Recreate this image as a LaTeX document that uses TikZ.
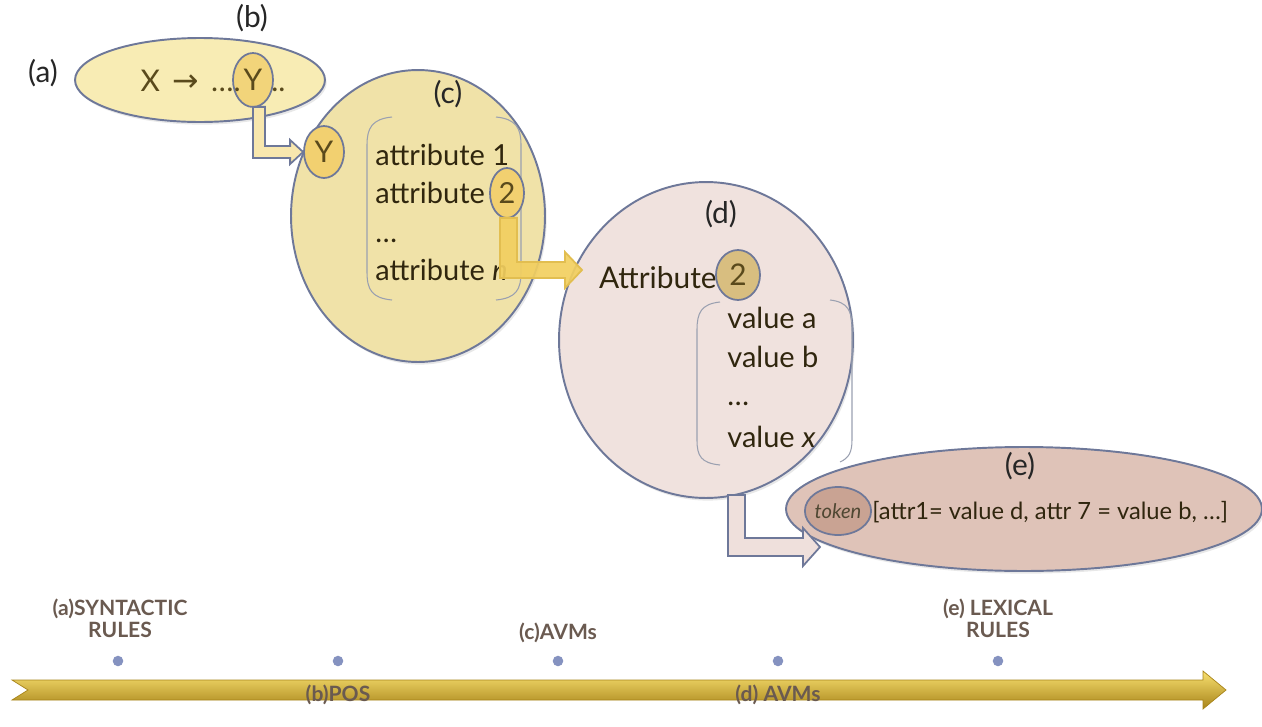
\documentclass[tikz,border=0pt]{standalone}
\usepackage{fontspec}
\setmainfont{Lato}
\newfontfamily\djv{DejaVu Sans}
\usetikzlibrary{shapes.geometric,calc,shadows}
\definecolor{bord}{HTML}{6E7899}
\definecolor{ellA}{HTML}{F8ECB4}
\definecolor{circC}{HTML}{F0E2A8}
\definecolor{hiY}{HTML}{F2D070}
\definecolor{arrA}{HTML}{F8E7AE}
\definecolor{arrB}{HTML}{F2CF60}
\definecolor{arrBd}{HTML}{E2BE50}
\definecolor{circD}{HTML}{F0E2DE}
\definecolor{hiD}{HTML}{D8BE80}
\definecolor{arrC}{HTML}{EFE0DC}
\definecolor{ellE}{HTML}{DFC3B8}
\definecolor{tokE}{HTML}{C9A393}
\definecolor{txtC}{HTML}{30260E}
\definecolor{txtA}{HTML}{5A4A1C}
\definecolor{tl}{HTML}{6A5A50}
\definecolor{dotc}{HTML}{8592C0}
\definecolor{brk}{HTML}{9AA0B0}
\definecolor{tlTop}{HTML}{F8E070}
\definecolor{tlMid}{HTML}{F4C814}
\definecolor{tlBot}{HTML}{A8841A}
\tikzset{
  shp/.style={ellipse,draw=bord,line width=1.1pt,inner sep=0pt},
  hl/.style={shp,line width=1pt},
  lbl/.style={font=\fontsize{17}{19}\selectfont,text=black!85},
  body/.style={font=\fontsize{16.5}{18}\selectfont,text=txtC,inner sep=0pt},
  blockarrow/.style={draw=bord,line width=1pt,line join=miter},
  tlab/.style={font=\bfseries\fontsize{12}{12.5}\selectfont,text=tl,align=center,inner sep=0pt},
  tdot/.style={circle,fill=dotc,inner sep=0pt,minimum size=6pt},
  bracket/.style={draw=brk,line width=0.6pt},
  sh/.style={drop shadow={opacity=0.18,shadow xshift=1pt,shadow yshift=-1.5pt}}
}
\begin{document}
\begin{tikzpicture}[x=0.02cm,y=-0.02cm]
\useasboundingbox (0,0) rectangle (1262,727);

% ---------- (a) ----------
\node[shp,sh,fill=ellA,minimum width=5.0cm,minimum height=1.68cm] (ellA) at (200,80) {};
\node[lbl] (la) at (43,73) {(a)};
\node[lbl] (lb) at (252,18) {(b)};
\node[hl,fill=hiY,fill opacity=0.85,text opacity=1,minimum width=0.8cm,minimum height=1.08cm,text=txtA,font=\fontsize{17}{19}\selectfont] (Yb) at (253,80) {Y};
\node[body,text=txtA,anchor=base east,font=\fontsize{17}{19}\selectfont] (rule) at (241,91) {X\hspace{7pt}{\djv\fontsize{18}{19}\selectfont →}\hspace{7pt}….};
\node[body,text=txtA,anchor=base west,font=\fontsize{17}{19}\selectfont] (rule2) at (271,91) {..};

% ---------- (c) ----------
\node[shp,sh,fill=circC,minimum width=5.08cm,minimum height=5.84cm] (cC) at (418,216) {};
\node[hl,fill=hiY,minimum width=0.8cm,minimum height=1.04cm,text=txtA,font=\fontsize{17}{19}\selectfont] (Yc) at (324,152) {Y};

\coordinate (a1s) at ($(Yb.south)+(0,-1)$);
\coordinate (a1e) at (Yc.west);
\filldraw[blockarrow,fill=arrA]
  (a1s) -- ($(a1s)+(12,0)$) -- ($(a1s |- a1e)+(12,-6)$) -- ($(a1e)+(-13,-6)$)
  -- ($(a1e)+(-13,-12)$) -- (a1e) -- ($(a1e)+(-13,12)$) -- ($(a1e)+(-13,6)$)
  -- ($(a1s |- a1e)+(0,6)$) -- cycle;

\node[lbl] (lc) at (448,94) {(c)};
\draw[bracket] (392,117) .. controls (372,119) and (367,128) .. (367,145) -- (367,272) .. controls (367,290) and (372,298) .. (392,300);
\draw[bracket] (496,117) .. controls (516,119) and (521,128) .. (521,145) -- (521,272) .. controls (521,290) and (516,298) .. (496,300);
\node[body,anchor=west] (at1) at (375,155) {attribute 1};
\node[body,anchor=west] (at2) at (375,193) {attribute};
\node[body,anchor=west] (atd) at (375,241) {…};
\node[body,anchor=west] (atn) at (375,270) {attribute \textit{n}};

% ---------- (d) ----------
\node[shp,sh,fill=circD,minimum width=5.88cm,minimum height=6.32cm] (cD) at (706,340) {};

\node[hl,fill=hiY,minimum width=0.68cm,minimum height=1.0cm,text=txtA,font=\fontsize{16.5}{18}\selectfont] (c2) at (507,193) {2};
\coordinate (a2s) at ($(c2.south)+(-7,-1)$);
\coordinate (a2e) at (582,270);
\filldraw[draw=arrBd,line width=1pt,fill=arrB,fill opacity=0.92]
  (a2s) -- ($(a2s)+(17,0)$) -- ($(a2s |- a2e)+(17,-8)$) -- ($(a2e)+(-17,-8)$)
  -- ($(a2e)+(-17,-18)$) -- (a2e) -- ($(a2e)+(-17,18)$) -- ($(a2e)+(-17,8)$)
  -- ($(a2s |- a2e)+(0,8)$) -- cycle;

\node[lbl] (ld) at (721,214) {(d)};
\node[body,anchor=east,font=\fontsize{17}{19}\selectfont] (attD) at (717,278) {Attribute};
\node[hl,fill=hiD,minimum width=0.88cm,minimum height=1.0cm,text=txtA,font=\fontsize{17}{19}\selectfont] (d2) at (738,275) {2};
\draw[bracket] (720,302) .. controls (701,304) and (697,313) .. (697,330) -- (697,440) .. controls (697,456) and (701,463) .. (720,465);
\draw[bracket] (830,300) .. controls (848,302) and (852,311) .. (852,328) -- (852,440) .. controls (852,452) and (849,458) .. (840,462);
\node[body,anchor=west] (va) at (727,318) {value a};
\node[body,anchor=west] (vb) at (727,357) {value b};
\node[body,anchor=west] (vd) at (727,404) {…};
\node[body,anchor=west] (vx) at (727,437) {value \textit{x}};

% ---------- (e) ----------
\node[shp,sh,fill=ellE,minimum width=9.52cm,minimum height=2.48cm] (eE) at (1024,509) {};
\node[hl,fill=tokE,minimum width=1.3cm,minimum height=0.96cm,text=txtC!85,font=\itshape\fontsize{11.5}{13}\selectfont] (tok) at (838,511) {token};
\coordinate (a3s) at ($(cD.south)+(22,-4)$);
\coordinate (a3e) at (820,547);
\filldraw[blockarrow,fill=arrC]
  (a3s) -- ($(a3s)+(17,0)$) -- ($(a3s |- a3e)+(17,-9)$) -- ($(a3e)+(-17,-9)$)
  -- ($(a3e)+(-17,-19)$) -- (a3e) -- ($(a3e)+(-17,19)$) -- ($(a3e)+(-17,9)$)
  -- ($(a3s |- a3e)+(0,9)$) -- cycle;
\node[lbl] (le) at (1020,466) {(e)};
\node[body,anchor=west,font=\fontsize{13.5}{15}\selectfont] (etext) at (872,512) {[attr1= value d, attr 7 = value b, …]};

% ---------- timeline ----------
\coordinate (tA) at (12,690);
\coordinate (tB) at (1226,690);
\shadedraw[draw=tlBot,line width=0.4pt,top color=tlTop,middle color=tlMid,bottom color=tlBot]
  ($(tA)+(0,-10)$) -- ($(tB)+(-23,-10)$) -- ($(tB)+(-23,-19)$) -- (tB) -- ($(tB)+(-23,19)$)
  -- ($(tB)+(-23,10)$) -- ($(tA)+(0,10)$) -- ($(tA)+(16,0)$) -- cycle;

\foreach \i/\x in {1/118,2/338,3/558,4/778,5/998}{
  \node[tdot] (dot\i) at (\x,661) {};
}
\node[tlab] (tla) at (120,618) {(a)SYNTACTIC\\RULES};
\node[tlab] (tlc) at (558,633) {(c)AVMs};
\node[tlab] (tle) at (998,618) {(e) LEXICAL\\RULES};
\node[tlab] (tlb) at (338,695) {(b)POS};
\node[tlab] (tld) at (778,695) {(d) AVMs};
\end{tikzpicture}
\end{document}
